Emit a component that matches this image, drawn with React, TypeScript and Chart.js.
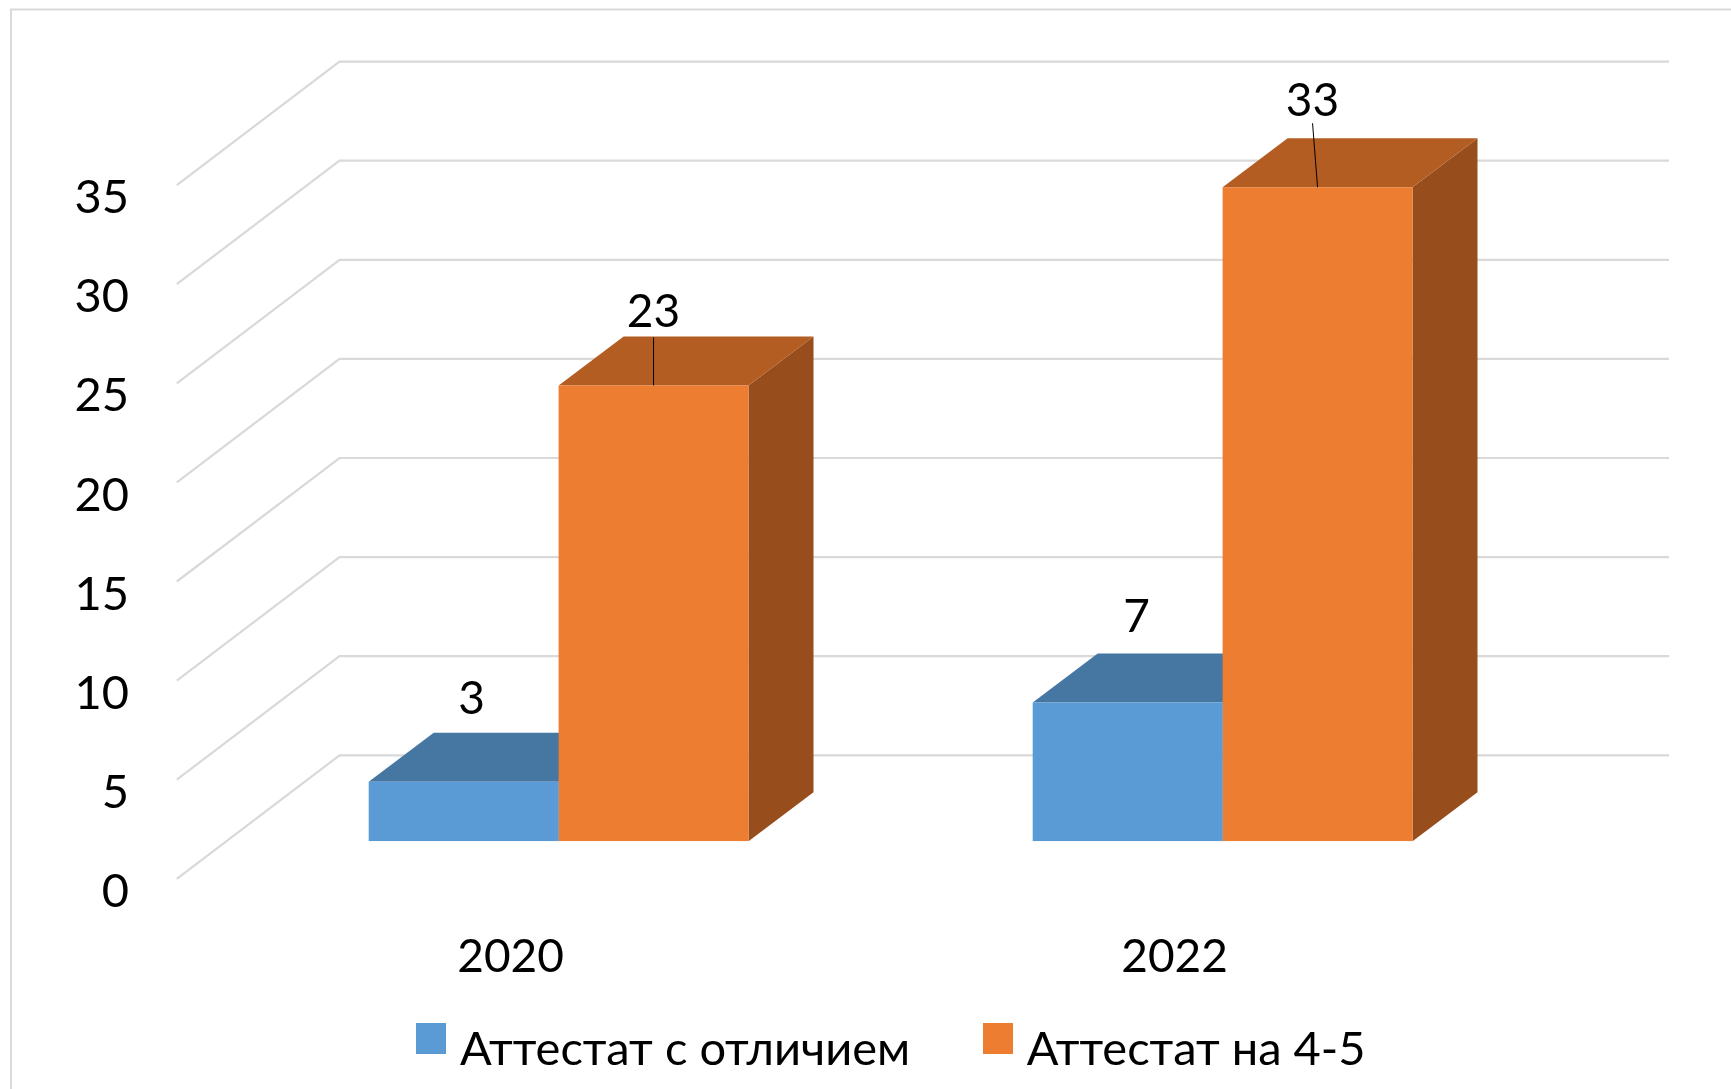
import React, { useEffect, useRef } from "react";
import { Chart, registerables } from "chart.js";

Chart.register(...registerables);

const categories = ["2020", "2022"];
const seriesNames = ["Аттестат с отличием", "Аттестат на 4-5"];
const excellentValues = [3, 7];
const goodValues = [23, 33];
const yMax = 35;
const yStep = 5;

const FONT = "Lato, 'Noto Sans', sans-serif";
const frontColors = ["#5B9BD5", "#ED7D31"];
const topColors = ["#4676A2", "#B45D22"];
const sideColors = ["#3A6187", "#974E1C"];
const GRID = "#D9D9D9";

// label nudges relative to each bar's top centre: [dx, dy] per dataset / category
const labelNudges = [
  [[8, -82.5], [9, -85.6]],
  [[0, -73], [-5, -86.5]],
];
const leaderLines = [
  [null, null],
  [[0, -48, 0, 0], [-5, -64, 0, 0]],
];

function swatch(color: string) {
  const c = document.createElement("canvas");
  c.width = 30;
  c.height = 53;
  const x = c.getContext("2d")!;
  x.fillStyle = color;
  x.fillRect(0, 0, 30, 31);
  return c;
}

const depthPlugin = {
  id: "depth3d",
  afterLayout(chart: any) {
    const lg = chart.legend;
    if (!lg) return;
    lg.left = 230;
    lg.right = 1562;
    lg.top = 943;
    lg.bottom = 1150;
  },
  beforeDatasetsDraw(chart: any) {
    const { ctx, scales } = chart;
    const y = scales.y;
    ctx.save();
    // frame
    ctx.strokeStyle = GRID;
    ctx.lineWidth = 2;
    ctx.beginPath();
    ctx.moveTo(11, 1089);
    ctx.lineTo(11, 9.5);
    ctx.lineTo(1731, 9.5);
    ctx.stroke();
    // wall grid
    ctx.lineWidth = 2.2;
    for (let v = 0; v <= yMax; v += yStep) {
      const p = y.getPixelForValue(v);
      ctx.beginPath();
      ctx.moveTo(176.8, p + 37.5);
      ctx.lineTo(339.5, p - 86);
      ctx.lineTo(1669, p - 86);
      ctx.stroke();
    }
    // bar depth faces
    const dx = 65;
    const dy = -49;
    const baseY = y.getPixelForValue(0);
    chart.data.datasets.forEach((_: any, di: number) => {
      chart.getDatasetMeta(di).data.forEach((bar: any) => {
        const l = bar.x - bar.width / 2;
        const r = bar.x + bar.width / 2;
        ctx.fillStyle = sideColors[di];
        ctx.beginPath();
        ctx.moveTo(r, bar.y);
        ctx.lineTo(r + dx, bar.y + dy);
        ctx.lineTo(r + dx, baseY + dy);
        ctx.lineTo(r, baseY);
        ctx.closePath();
        ctx.fill();
        ctx.fillStyle = topColors[di];
        ctx.beginPath();
        ctx.moveTo(l, bar.y);
        ctx.lineTo(l + dx, bar.y + dy);
        ctx.lineTo(r + dx, bar.y + dy);
        ctx.lineTo(r, bar.y);
        ctx.closePath();
        ctx.fill();
      });
    });
    ctx.restore();
  },
  afterDatasetsDraw(chart: any) {
    const { ctx } = chart;
    ctx.save();
    ctx.font = `46px ${FONT}`;
    ctx.fillStyle = "#000";
    ctx.textAlign = "center";
    ctx.textBaseline = "middle";
    chart.data.datasets.forEach((ds: any, di: number) => {
      chart.getDatasetMeta(di).data.forEach((bar: any, i: number) => {
        const [nx, ny] = labelNudges[di][i];
        ctx.fillText(String(ds.data[i]), bar.x + nx, bar.y + ny);
        const line = leaderLines[di][i];
        if (line) {
          ctx.strokeStyle = "#000";
          ctx.lineWidth = 1;
          ctx.beginPath();
          ctx.moveTo(bar.x + line[0], bar.y + line[1]);
          ctx.lineTo(bar.x + line[2], bar.y + line[3]);
          ctx.stroke();
        }
      });
    });
    ctx.restore();
  },
};

export default function App() {
  const ref = useRef<HTMLCanvasElement>(null);
  useEffect(() => {
    const chart = new Chart(ref.current!, {
      type: "bar",
      data: {
        labels: categories,
        datasets: [
          { label: seriesNames[0], data: excellentValues, backgroundColor: frontColors[0], categoryPercentage: 0.572, barPercentage: 1 },
          { label: seriesNames[1], data: goodValues, backgroundColor: frontColors[1], categoryPercentage: 0.572, barPercentage: 1 },
        ],
      },
      plugins: [depthPlugin],
      options: {
        responsive: false,
        animation: false,
        layout: { padding: { left: 0, right: 176.4, top: 147.6, bottom: 0 } },
        scales: {
          x: {
            grid: { display: false },
            border: { display: false },
            afterFit: (s: any) => { s.height = 187.7; },
            ticks: { color: "#000", font: { family: FONT, size: 46 }, padding: 80.2, labelOffset: -48, maxRotation: 0 },
          },
          y: {
            min: 0,
            max: yMax,
            grid: { display: false },
            border: { display: false },
            afterFit: (s: any) => { s.width = 226.6; },
            ticks: { color: "#000", font: { family: FONT, size: 47 }, stepSize: yStep, padding: 89.6, labelOffset: 50.5 },
          },
        },
        plugins: {
          tooltip: { enabled: false },
          legend: {
            position: "bottom",
            maxHeight: 60,
            labels: {
              color: "#000",
              font: { family: FONT, size: 47 },
              padding: 83,
              usePointStyle: true,
              pointStyleWidth: 10,
              generateLabels: () =>
                seriesNames.map((text, i) => ({
                  text,
                  fontColor: "#000",
                  pointStyle: swatch(frontColors[i]),
                  datasetIndex: i,
                  lineWidth: 0,
                })),
            },
          },
        },
      } as any,
    });
    return () => chart.destroy();
  }, []);
  return (
    <div style={{ position: "fixed", left: 0, top: 0, width: 1731, height: 1089, background: "#fff" }}>
      <canvas ref={ref} width={1731} height={1089} style={{ display: "block" }} />
    </div>
  );
}
